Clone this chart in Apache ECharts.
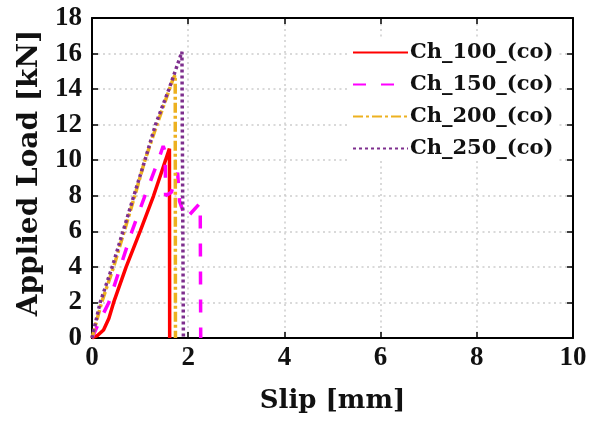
<!DOCTYPE html>
<html>
<head>
<meta charset="utf-8">
<script src="https://cdn.jsdelivr.net/npm/echarts@6/dist/echarts.min.js"></script>
<style>
  html, body { margin: 0; padding: 0; background: #fff; }
  #chart { width: 598px; height: 424px; }
</style>
</head>
<body>
<div id="chart"></div>
<script>
// data (slip in mm, load in kN)
const seriesNames = ['Ch_100_(co)', 'Ch_150_(co)', 'Ch_200_(co)', 'Ch_250_(co)'];

const slip100 = [0, 0.12, 0.24, 0.35, 0.45, 0.71, 1.0, 1.28, 1.61, 1.615];
const load100 = [0, 0.15, 0.45, 1.1, 2.0, 4.0, 6.0, 8.0, 10.65, 0];

const slip150 = [0, 0.15, 0.35, 0.59, 0.83, 1.1, 1.38, 1.48, 1.52, 1.53, 1.65, 1.78, 1.82, 1.95, 2.25, 2.26];
const load150 = [0, 0.9, 2.0, 4.0, 6.0, 8.0, 10.0, 10.8, 10.5, 8.0, 8.2, 9.3, 7.7, 6.7, 7.6, 0];

const slip200 = [0, 0.2, 0.45, 0.89, 1.10, 1.35, 1.61, 1.69, 1.73, 1.735];
const load200 = [0, 2.0, 4.0, 8.0, 10.0, 12.0, 14.0, 14.6, 14.8, 0];

const slip250 = [0, 0.17, 0.42, 0.87, 1.1, 1.32, 1.6, 1.87, 1.9];
const load250 = [0, 2.0, 4.0, 8.0, 10.0, 12.0, 14.0, 16.1, 0];

const xTicks = [0, 2, 4, 6, 8, 10];
const yTicks = [0, 2, 4, 6, 8, 10, 12, 14, 16, 18];

const pairs = (xs, ys) => xs.map((x, i) => [x, ys[i]]);

const chart = echarts.init(document.getElementById('chart'));

const tickFont = {
    fontFamily: 'Liberation Serif',
    fontWeight: 'bold',
    fontSize: 27,
    color: '#111'
};
const titleFont = (size) => ({
    fontFamily: 'DejaVu Serif',
    fontWeight: 'bold',
    fontSize: size,
    color: '#111'
});
const gridDots = { show: true, lineStyle: { color: '#cdcdcd', width: 1.5, type: [2, 3.5] } };
const frameLine = { show: true, onZero: false, lineStyle: { color: '#000', width: 2 } };
const inTick = { show: true, inside: true, length: 6, lineStyle: { color: '#000', width: 1.5 } };

const option = {
    animation: false,
    backgroundColor: '#fff',
    grid: { left: 92, right: 25, top: 18, bottom: 86 },
    legend: {
        data: seriesNames,
        orient: 'vertical',
        left: 350,
        top: 40,
        itemWidth: 55,
        itemHeight: 14,
        itemGap: 11,
        padding: [2, 4, 2, 2],
        backgroundColor: '#fff',
        itemStyle: { opacity: 0 },
        textStyle: {
            fontFamily: 'DejaVu Serif',
            fontWeight: 'bold',
            fontSize: 21,
            color: '#111',
            padding: [0, 0, 0, -3]
        }
    },
    xAxis: [
        {
            type: 'value',
            min: xTicks[0],
            max: xTicks[xTicks.length - 1],
            interval: 2,
            name: 'Slip [mm]',
            nameLocation: 'middle',
            nameGap: 50,
            nameTextStyle: titleFont(26),
            axisLine: frameLine,
            axisTick: inTick,
            axisLabel: Object.assign({ margin: 7 }, tickFont),
            splitLine: gridDots
        },
        {
            type: 'value',
            position: 'top',
            min: xTicks[0],
            max: xTicks[xTicks.length - 1],
            interval: 2,
            axisLine: frameLine,
            axisTick: inTick,
            axisLabel: { show: false },
            splitLine: { show: false }
        }
    ],
    yAxis: [
        {
            type: 'value',
            min: yTicks[0],
            max: yTicks[yTicks.length - 1],
            interval: 2,
            name: 'Applied Load [kN]',
            nameLocation: 'middle',
            nameGap: 44,
            nameRotate: 90,
            nameTextStyle: Object.assign(titleFont(28), { padding: [0, 0, 0, 10] }),
            axisLine: frameLine,
            axisTick: inTick,
            axisLabel: Object.assign({ margin: 10 }, tickFont),
            splitLine: gridDots
        },
        {
            type: 'value',
            position: 'right',
            min: yTicks[0],
            max: yTicks[yTicks.length - 1],
            interval: 2,
            axisLine: frameLine,
            axisTick: inTick,
            axisLabel: { show: false },
            splitLine: { show: false }
        }
    ],
    series: [
        {
            name: seriesNames[0],
            type: 'line',
            symbol: 'none',
            data: pairs(slip100, load100),
            itemStyle: { color: '#ff0000' },
            lineStyle: { color: '#ff0000', width: 3.5 }
        },
        {
            name: seriesNames[1],
            type: 'line',
            symbol: 'none',
            data: pairs(slip150, load150),
            itemStyle: { color: '#ff00ff' },
            lineStyle: { color: '#ff00ff', width: 3.5, type: [13, 15] }
        },
        {
            name: seriesNames[2],
            type: 'line',
            symbol: 'none',
            data: pairs(slip200, load200),
            itemStyle: { color: '#edb120' },
            lineStyle: { color: '#edb120', width: 3.5, type: [10, 3, 3, 3] }
        },
        {
            name: seriesNames[3],
            type: 'line',
            symbol: 'none',
            data: pairs(slip250, load250),
            itemStyle: { color: '#7e2f8e' },
            lineStyle: { color: '#7e2f8e', width: 3.5, type: [3, 3] }
        }
    ]
};

chart.setOption(option);
</script>
</body>
</html>
